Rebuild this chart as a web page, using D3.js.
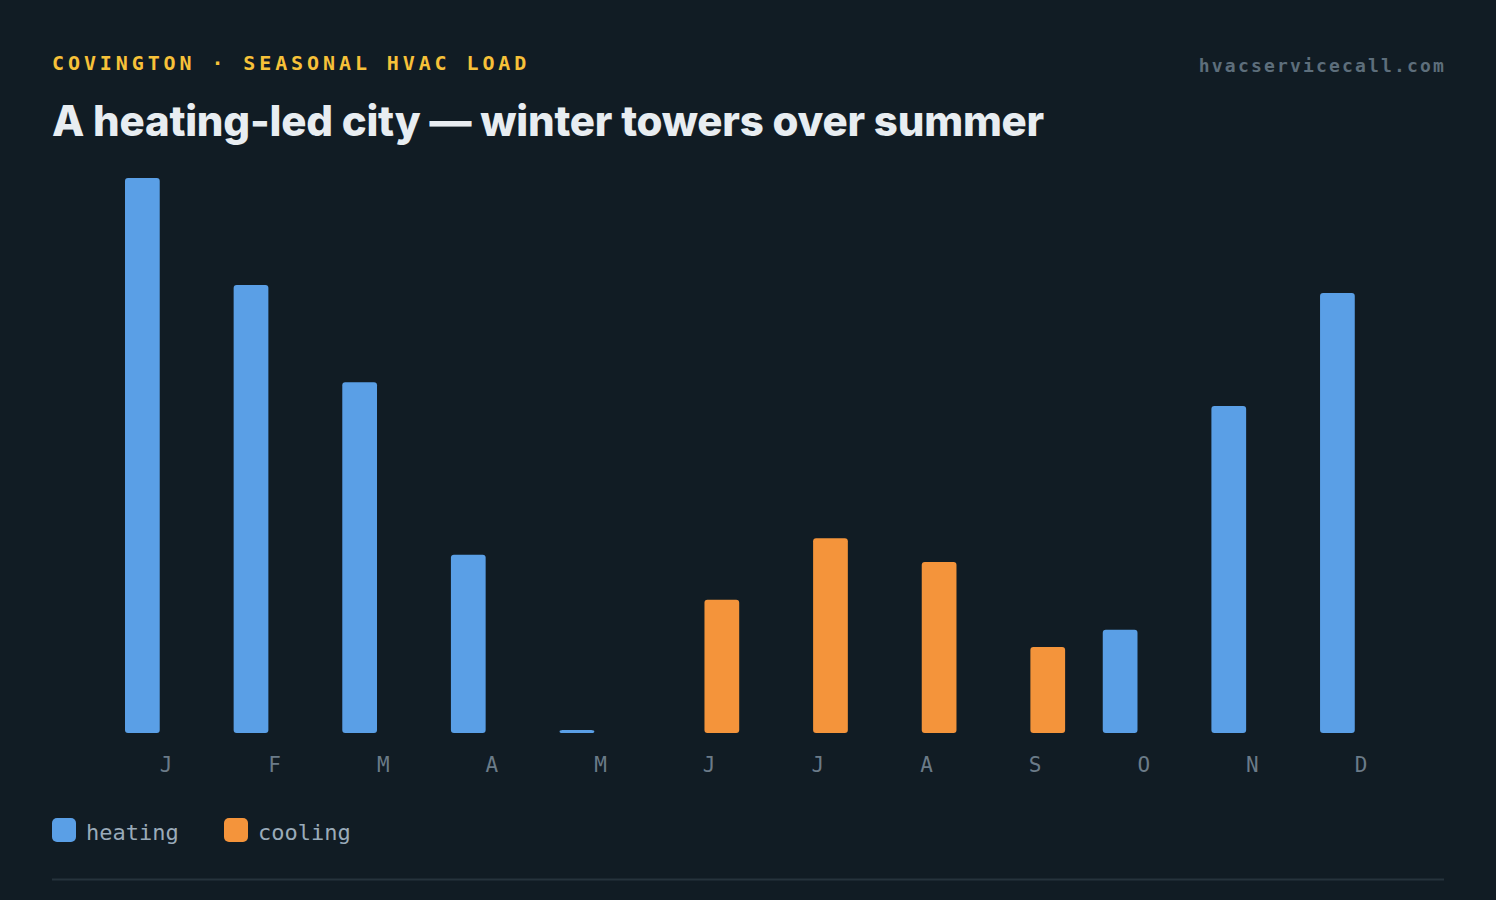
<!DOCTYPE html>
<html lang="en">
<head>
  <meta charset="UTF-8" />
  <title>Covington seasonal HVAC load</title>
  <script src="https://cdn.jsdelivr.net/npm/d3@7/dist/d3.min.js"></script>
  <style>
    html, body {
      margin: 0;
      padding: 0;
      background: #111c24;
    }
    svg { display: block; }
    .mono { font-family: "DejaVu Sans Mono", "Liberation Mono", monospace; }
    .title { font-family: Inter, "Noto Sans", sans-serif; font-weight: 800; }
  </style>
</head>
<body>
  <svg id="chart" width="1496" height="900"></svg>

  <script>
    // Monthly load, degree-day style units
    var months  = ["J", "F", "M", "A", "M", "J", "J", "A", "S", "O", "N", "D"];
    var heating = [1000, 807, 632, 321, 4, 0, 0, 0, 0, 186, 589, 793];
    var cooling = [0, 0, 0, 0, 0, 240, 351, 308, 155, 0, 0, 0];
    var seriesKeys   = ["heating", "cooling"];
    var seriesColors = ["#5a9fe6", "#f4943b"];

    var svg = d3.select("#chart");

    // header text
    svg.append("text")
       .attr("class", "mono")
       .attr("x", 52).attr("y", 70)
       .attr("fill", "#f7c139")
       .attr("font-size", 20)
       .attr("font-weight", 700)
       .attr("letter-spacing", 3.9)
       .text("COVINGTON · SEASONAL HVAC LOAD");

    svg.append("text")
       .attr("class", "mono")
       .attr("x", 1446).attr("y", 72)
       .attr("text-anchor", "end")
       .attr("fill", "#5d6e7b")
       .attr("font-size", 18)
       .attr("font-weight", 700)
       .attr("letter-spacing", 2.17)
       .text("hvacservicecall.com");

    var title = svg.append("text")
       .attr("class", "title")
       .attr("x", 52).attr("y", 136)
       .attr("fill", "#e8edf1")
       .attr("font-size", 42)
       .attr("letter-spacing", -1.2)
       .text("A heating-led city — winter towers over summer");

    // stretch the title to the width seen in the picture
    var tw = title.node().getComputedTextLength();
    var n = title.text().length;
    title.attr("letter-spacing", -1.2 + (992 - tw) / n);

    // scales
    var step = 108.64;
    var x0 = d3.scaleBand()
               .domain(d3.range(months.length))
               .range([166 - step / 2, 166 + step * (months.length - 0.5)])
               .padding(0);

    var half = x0.bandwidth() / 2;
    var x1 = d3.scaleBand()
               .domain(seriesKeys)
               .range([half - 41, half + 30])
               .paddingInner(3 / 71);

    var y = d3.scaleLinear()
              .domain([0, d3.max(heating.concat(cooling))])
              .range([733, 178]);

    var color = d3.scaleOrdinal().domain(seriesKeys).range(seriesColors);

    var rows = months.map(function(m, i) {
      return { i: i, heating: heating[i], cooling: cooling[i] };
    });

    var groups = svg.append("g")
       .selectAll("g")
       .data(rows)
       .join("g")
       .attr("transform", function(d) { return "translate(" + x0(d.i) + ",0)"; });

    groups.selectAll("rect")
       .data(function(d) {
         return seriesKeys
           .map(function(k) { return { key: k, value: d[k] }; })
           .filter(function(s) { return s.value > 0; });
       })
       .join("rect")
       .attr("x", function(d) { return x1(d.key); })
       .attr("width", x1.bandwidth())
       .attr("y", function(d) { return Math.min(y(d.value), 730); })
       .attr("height", function(d) { return Math.max(y(0) - y(d.value), 3); })
       .attr("rx", 3)
       .attr("fill", function(d) { return color(d.key); });

    // month axis
    var xAxis = d3.axisBottom(x0)
                  .tickFormat(function(i) { return months[i]; })
                  .tickSize(0)
                  .tickPadding(0);

    var ax = svg.append("g")
       .attr("transform", "translate(0,757)")
       .call(xAxis);
    ax.select(".domain").remove();
    ax.selectAll("text")
      .attr("class", "mono")
      .attr("dy", "0.71em")
      .attr("fill", "#6b7b88")
      .attr("font-size", 21);

    // legend
    var leg = svg.append("g")
       .selectAll("g")
       .data(seriesKeys)
       .join("g")
       .attr("transform", function(d, i) { return "translate(" + [52, 224][i] + ",818)"; });

    leg.append("rect")
       .attr("width", 24).attr("height", 24)
       .attr("rx", 5)
       .attr("fill", function(d) { return color(d); });

    leg.append("text")
       .attr("class", "mono")
       .attr("x", 34).attr("y", 22)
       .attr("fill", "#9aabb9")
       .attr("font-size", 22)
       .text(function(d) { return d; });

    // bottom rule
    svg.append("line")
       .attr("x1", 52).attr("x2", 1444)
       .attr("y1", 879.5).attr("y2", 879.5)
       .attr("stroke", "#26333c")
       .attr("stroke-width", 2);
  </script>
</body>
</html>
